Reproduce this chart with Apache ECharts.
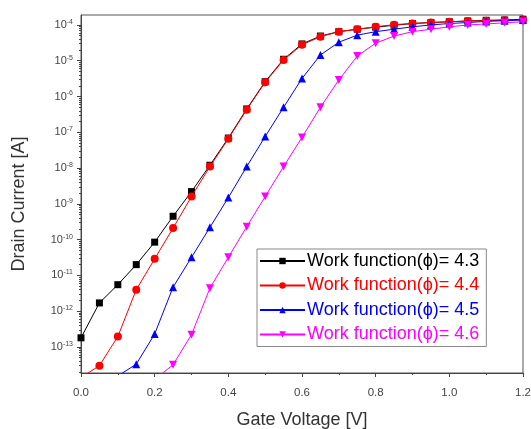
<!DOCTYPE html>
<html><head><meta charset="utf-8">
<script src="https://cdn.jsdelivr.net/npm/echarts@6/dist/echarts.min.js"></script>
<style>html,body{margin:0;padding:0;background:#fff}#c{width:531px;height:429px}</style>
</head><body><div id="c"></div>
<script>
var voltage = [0,0.05,0.1,0.15,0.2,0.25,0.3,0.35,0.4,0.45,0.5,0.55,0.6,0.65,0.7,0.75,0.8,0.85,0.9,0.95,1.0,1.05,1.1,1.15,1.2];
var wf43 = [1.8e-13,1.7e-12,5.5e-12,2.0e-11,8.5e-11,4.5e-10,2.2e-9,1.2e-8,6.9e-8,4.5e-7,2.6e-6,1.1e-5,2.95e-5,4.9e-5,6.5e-5,7.6e-5,8.7e-5,9.8e-5,1.1e-4,1.17e-4,1.23e-4,1.29e-4,1.35e-4,1.38e-4,1.45e-4];
var wf44 = [1.4e-14,3.0e-14,1.95e-13,4.0e-12,2.9e-11,2.1e-10,1.6e-9,1.1e-8,6.6e-8,4.3e-7,2.5e-6,1.05e-5,2.8e-5,4.7e-5,6.5e-5,7.6e-5,8.9e-5,1.02e-4,1.1e-4,1.17e-4,1.23e-4,1.29e-4,1.32e-4,1.35e-4,1.38e-4];
var wf45 = [null,null,1.55e-14,3.3e-14,2.3e-13,4.7e-12,3.2e-11,2.2e-10,1.5e-9,1.1e-8,7.6e-8,5.0e-7,3.2e-6,1.45e-5,3.3e-5,5.2e-5,6.5e-5,7.6e-5,8.9e-5,1.0e-4,1.1e-4,1.17e-4,1.26e-4,1.32e-4,1.38e-4];
var wf46 = [null,null,null,null,1.23e-14,3.2e-14,2.2e-13,4.4e-12,3.2e-11,2.3e-10,1.6e-9,1.1e-8,7.2e-8,5.0e-7,2.9e-6,1.35e-5,3.1e-5,4.9e-5,6.5e-5,7.6e-5,8.9e-5,1.0e-4,1.07e-4,1.15e-4,1.23e-4];
var seriesNames = ['Work function(\u03d5)= 4.3','Work function(\u03d5)= 4.4','Work function(\u03d5)= 4.5','Work function(\u03d5)= 4.6'];
var seriesColors = ['#000000','#ff0000','#0000ff','#ff00ff'];
var seriesSymbols = ['rect','circle','triangle','path://M0,0L10,0L5,9Z'];
var xTickLabels = ['0.0','0.2','0.4','0.6','0.8','1.0','1.2'];
var yTickExponents = [-13,-12,-11,-10,-9,-8,-7,-6,-5,-4];
var yMin = 1.87e-14, yMax = 1.9e-4;

var yMajor = yTickExponents.map(function(e){ return Math.pow(10, e); });
var yMinor = [];
[-14].concat(yTickExponents).forEach(function(e){
  for (var m = 2; m <= 9; m++) { var v = m * Math.pow(10, e); if (v > yMin && v < yMax) yMinor.push(v); }
});

var allData = [wf43, wf44, wf45, wf46];
function pairs(arr){ var out=[]; for (var i=0;i<voltage.length;i++){ if(arr[i]!==null) out.push([voltage[i], arr[i]]); } return out; }

var chart = echarts.init(document.getElementById('c'));
var series = allData.map(function(d, i){
  return {
    name: seriesNames[i], type: 'line', data: pairs(d), clip: true, yAxisIndex: 0,
    symbol: seriesSymbols[i], symbolSize: i===0 ? 7 : 8,
    lineStyle: {color: seriesColors[i], width: 1},
    itemStyle: {color: seriesColors[i]},
    z: 2 + i
  };
});
var axColor = '#444';
chart.setOption({
  animation: false,
  backgroundColor: '#fff',
  textStyle: {fontFamily: 'Liberation Sans, Arial, sans-serif'},
  grid: {left: 81, right: 8, top: 15, bottom: 56, show: true, borderColor: '#555', borderWidth: 1, backgroundColor: '#fff', containLabel: false, outerBoundsMode: 'none'},
  xAxis: {
    type: 'value', min: 0, max: 1.2, interval: 0.2,
    name: 'Gate Voltage [V]', nameLocation: 'middle', nameGap: 38,
    nameTextStyle: {fontSize: 18, color: '#333'},
    axisLine: {lineStyle: {color: axColor, width: 1}},
    axisTick: {show: true, length: 4, lineStyle: {color: axColor}},
    minorTick: {show: true, splitNumber: 2, length: 2, lineStyle: {color: axColor}},
    splitLine: {show: false},
    axisLabel: {fontSize: 11.5, color: axColor, margin: 14, formatter: function(v){ var idx = Math.round(v/0.2); return xTickLabels[idx] !== undefined ? xTickLabels[idx] : ''; }}
  },
  yAxis: [{
    type: 'log', logBase: 10, min: yMin, max: yMax, position: 'left',
    name: 'Drain Current [A]', nameLocation: 'middle', nameGap: 53,
    nameTextStyle: {fontSize: 18, color: '#333', padding: [0, 20, 0, 0]},
    axisLine: {lineStyle: {color: axColor, width: 1}},
    axisTick: {show: true, length: 4, customValues: yMajor, lineStyle: {color: axColor}},
    minorTick: {show: false},
    splitLine: {show: false},
    axisLabel: {
      margin: 8, color: axColor, customValues: yMajor,
      formatter: function(v){
        var r = Math.round(Math.log10(v));
        return '{b|10}{s|' + r + '}';
      },
      rich: {b: {fontSize: 11, color: axColor}, s: {fontSize: 7, color: axColor, verticalAlign: 'top', padding: [0,0,6,0]}}
    }
  }, {
    type: 'log', logBase: 10, min: yMin, max: yMax, position: 'left', offset: 0,
    axisLine: {show: false},
    axisTick: {show: true, length: 2, customValues: yMinor, lineStyle: {color: axColor}},
    axisLabel: {show: false},
    splitLine: {show: false}
  }],
  legend: {
    show: true, orient: 'vertical', left: 257, top: 249,
    itemWidth: 45, itemHeight: 8, itemGap: 6.5,
    padding: [3, 7, 3, 2],
    borderColor: '#888', borderWidth: 1, backgroundColor: '#fff',
    textStyle: {fontSize: 18, padding: [0,0,0,-3]},
    data: seriesNames.map(function(n, i){ return {name: n, textStyle: {color: seriesColors[i]}}; })
  },
  series: series
});
</script></body></html>
